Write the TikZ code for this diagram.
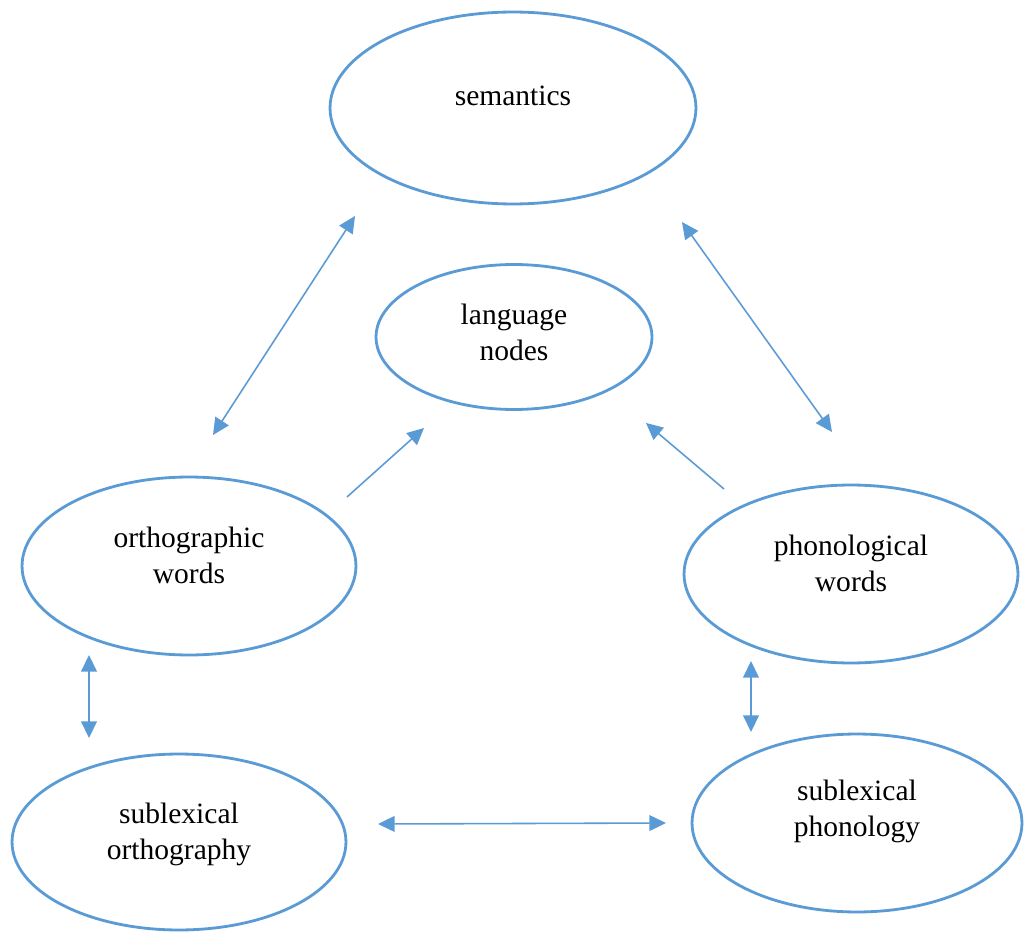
\documentclass[tikz,border=0pt]{standalone}
\usepackage{fontspec}
\setmainfont{Liberation Serif}
\usetikzlibrary{shapes.geometric,arrows.meta}
\definecolor{wordblue}{HTML}{5B9BD5}

\begin{document}
\begin{tikzpicture}[x=0.02cm,y=-0.02cm,thick]
\tikzstyle{blob}=[ellipse,draw=wordblue,line width=1.6pt,inner sep=0pt]
\tikzstyle{words}=[align=center,font=\fontsize{16.8}{20.5}\selectfont,text=black]
\tikzstyle{link}=[draw=wordblue,line width=0.9pt,{Triangle[length=9.5pt,width=9pt]}-{Triangle[length=9.5pt,width=9pt]}]
\tikzstyle{onelink}=[draw=wordblue,line width=0.9pt,-{Triangle[length=9.5pt,width=9pt]}]
\useasboundingbox (0,0) rectangle (1024,932);

% the six boxes
\node [blob,minimum width=7.32cm,minimum height=3.84cm] (sem) at (513,108) {};
\node [blob,minimum width=5.52cm,minimum height=2.90cm] (lang) at (514,337) {};
\node [blob,minimum width=6.68cm,minimum height=3.56cm] (orth) at (189,566) {};
\node [blob,minimum width=6.68cm,minimum height=3.56cm] (phon) at (851,574) {};
\node [blob,minimum width=6.68cm,minimum height=3.52cm] (subo) at (179,842) {};
\node [blob,minimum width=6.60cm,minimum height=3.56cm] (subp) at (857,823) {};

\node [words] (semtext) at (513,96) {semantics};
\node [words] (langtext) at (514,332) {language\\nodes};
\node [words] (orthtext) at (189,555) {orthographic\\words};
\node [words] (phontext) at (851,563) {phonological\\words};
\node [words] (subotext) at (179,834) {sublexical\\orthography};
\node [words] (subptext) at (857,811) {sublexical\\phonology};

% arrow ends
\coordinate (semL) at (355,216);
\coordinate (orthU) at (213,435);
\coordinate (semR) at (682,222);
\coordinate (phonU) at (832,432);
\coordinate (orthR) at (347,497);
\coordinate (langL) at (424,428);
\coordinate (phonL) at (724,489);
\coordinate (langR) at (646,423);
\coordinate (orthD) at (89,655);
\coordinate (suboU) at (89,738);
\coordinate (phonD) at (751,661);
\coordinate (subpU) at (751,732);
\coordinate (suboR) at (378,824);
\coordinate (subpL) at (666,823);

\draw [link] (semL) -- (orthU);
\draw [link] (semR) -- (phonU);
\draw [onelink] (orthR) -- (langL);
\draw [onelink] (phonL) -- (langR);
\draw [link] (orthD) -- (suboU);
\draw [link] (phonD) -- (subpU);
\draw [link] (suboR) -- (subpL);
\end{tikzpicture}
\end{document}
